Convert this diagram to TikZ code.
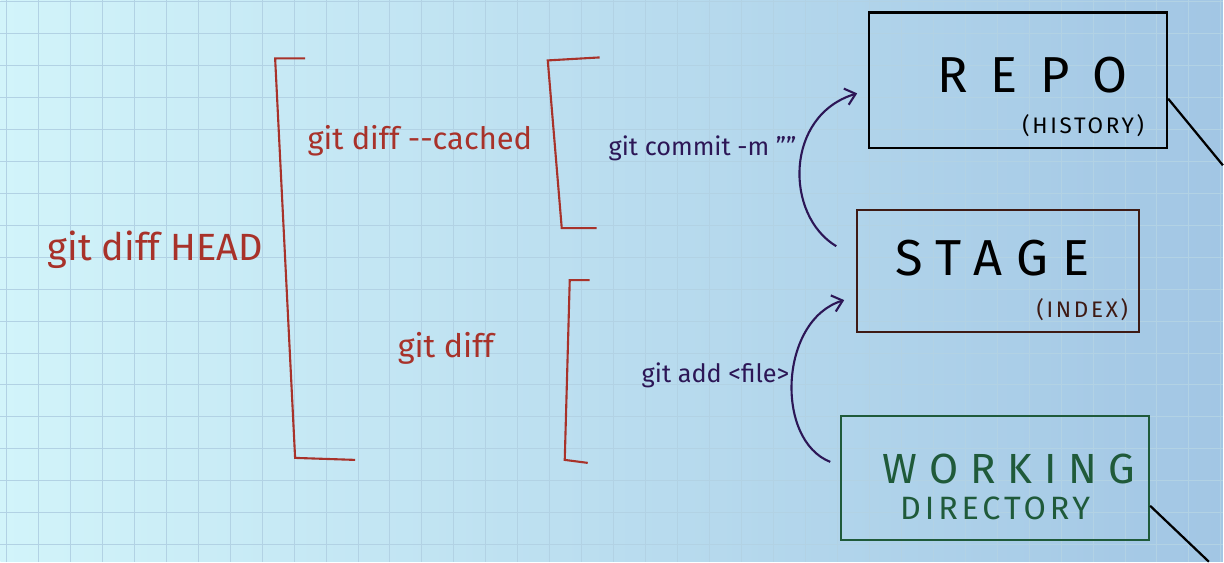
\documentclass[tikz,border=0pt]{standalone}
\usepackage{fontspec}
\setmainfont{Fira Sans}
\newfontfamily\boardfont[LetterSpace=12]{Fira Sans}
\usetikzlibrary{arrows.meta,positioning}

\definecolor{inkred}{HTML}{A8322A}
\definecolor{inkblue}{HTML}{2C1656}
\definecolor{inkgreen}{HTML}{1F5A3A}
\definecolor{inkbrown}{HTML}{3E1A14}
\definecolor{boardleft}{HTML}{D2F4FA}
\definecolor{boardright}{HTML}{A2C6E4}
\definecolor{gridline}{HTML}{B2D2E4}

\begin{document}
\begin{tikzpicture}[x=0.025cm,y=-0.025cm]
\tikzstyle{area}=[draw,line width=1.6pt,inner sep=0pt];
\tikzstyle{areatext}=[font=\boardfont\fontsize{36}{40}\selectfont,inner sep=0pt];
\tikzstyle{sub}=[font=\boardfont\fontsize{16}{18}\selectfont,inner sep=0pt];
\tikzstyle{diffcmd}=[text=inkred];
\tikzstyle{movecmd}=[text=inkblue];
\tikzstyle{bracket}=[draw=inkred,line width=1.5pt];
\tikzstyle{move}=[draw=inkblue,line width=1.5pt,-{Straight Barb[length=7pt,width=12pt]}];

% board
\shade[left color=boardleft,right color=boardright] (0,0) rectangle (1224,562);
\foreach \x in {6,38,...,1222} \draw[gridline,line width=0.7pt] (\x,0) -- (\x,562);
\foreach \y in {1,33,...,562} \draw[gridline,line width=0.7pt] (0,\y) -- (1224,\y);

% the three areas
\node[area,minimum width=7.45cm,minimum height=3.4cm] (repo) at (1019,80) {};
\node[areatext] (repotitle) at ([shift={(14,-5)}]repo.center) {\addfontfeature{LetterSpace=45}REPO};
\node[sub,above left=0.3cm and 0.6cm of repo.south east] (history) {(HISTORY)};
\node[area,draw=inkbrown,minimum width=7.05cm,minimum height=3.05cm] (stage) at (999,271) {};
\node[areatext] (stagetitle) at ([shift={(-6,-13)}]stage.center) {\addfontfeature{LetterSpace=28}STAGE};
\node[sub,text=inkbrown,above left=0.3cm and 0.3cm of stage.south east] (index) {(INDEX)};
\node[area,draw=inkgreen,minimum width=7.7cm,minimum height=3.1cm] (wd) at (996,478) {};
\node[text=inkgreen,font=\boardfont\fontsize{30}{36}\selectfont,inner sep=0pt] (wdtop) at ([shift={(14,-9)}]wd.center) {\addfontfeature{LetterSpace=28}WORKING};
\node[text=inkgreen,font=\boardfont\fontsize{23}{28}\selectfont,inner sep=0pt,below=0.3cm of wdtop,xshift=-0.35cm] (wdbottom) {DIRECTORY};

\coordinate (repoedge) at (1224,165);
\coordinate (wdedge) at (1210,562);
\draw[line width=1.6pt] ([yshift=-13]repo.east) -- (repoedge);
\draw[line width=1.6pt] ([yshift=25]wd.south east) -- (wdedge);

% diff commands
\node[diffcmd,font=\fontsize{27}{30}\selectfont] (diffhead) at (155,250) {git diff HEAD};
\node[diffcmd,font=\fontsize{22}{26}\selectfont] (diffcached) at (420,140) {git diff -{}-cached};
\node[diffcmd,font=\fontsize{23}{26}\selectfont] (diff) at (446,348) {git diff};

\path[bracket] (305,58) -- (275,58) -- (295,458) -- (355,460);
\path[bracket] (600,57) -- (548,60) -- (562,228) -- (597,228);
\path[bracket] (590,280) -- (570,280) -- (565,460) -- (588,463);

% moving between areas
\node[movecmd,font=\fontsize{18}{22}\selectfont] (commit) at (703,148) {git commit -m ""};
\node[movecmd,font=\fontsize{18}{22}\selectfont] (add) at (716,375) {git add <file>};

\draw[move] ([shift={(-20,-25)}]stage.west) .. controls (785,215) and (785,115) .. ([shift={(-11,13)}]repo.west);
\draw[move] ([shift={(-10,-16)}]wd.west) .. controls (775,440) and (780,320) .. ([shift={(-12,29)}]stage.west);
\end{tikzpicture}
\end{document}
